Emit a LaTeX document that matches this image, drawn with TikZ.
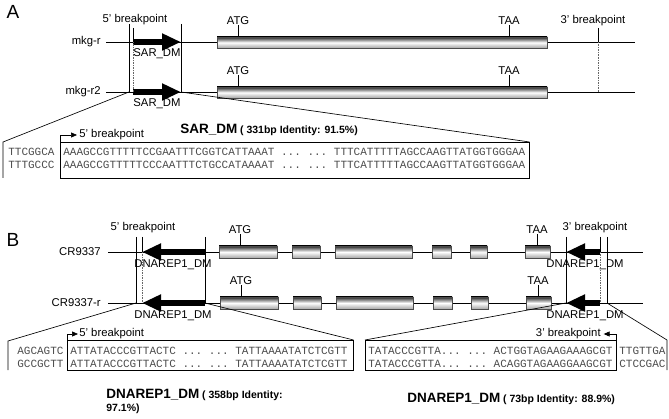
\documentclass[tikz,border=0pt]{standalone}
\usepackage{fontspec}
\setmainfont{Liberation Sans}
\setmonofont{Liberation Mono}
\usetikzlibrary{arrows.meta}

\tikzset{
  panel/.style={font=\fontsize{19}{20}\selectfont, inner sep=0pt},
  lbl/.style={font=\fontsize{11.3}{12}\selectfont, inner sep=0pt},
  seq/.style={font=\ttfamily\fontsize{11}{12}\selectfont, text=black!70, inner sep=0pt},
  exon/.style={draw=black!70, top color=black!85, bottom color=gray!70, middle color=white},
  repeatarrow/.style={line width=6.5pt, -{Triangle[length=19pt,width=16pt]}},
  bpline/.style={densely dotted, black!60},
  pointer/.style={-{Triangle[length=6pt,width=5pt]}},
  zoombox/.style={draw, inner sep=0pt, anchor=north west},
}
\newcommand{\bigname}[1]{{\fontsize{13.5}{14}\selectfont #1}}
\newcommand{\smallinfo}[1]{{\fontsize{10.5}{12}\selectfont #1}}

\begin{document}
\begin{tikzpicture}[x=1pt,y=-1pt,line width=0.65pt]
\useasboundingbox (0,0) rectangle (669,419);

% ---- panel A ----
\node[panel] (labA) at (13,12) {A};
\foreach \y/\name/\txt in {42/mkgr/mkg-r, 92/mkgrtwo/mkg-r2} {
    \node[lbl, anchor=east] (\name) at (101,\y) {\txt};
    \draw (106,\y) -- (635,\y);
    \draw[exon] (217,\y-5) rectangle (547,\y+6);
    \draw[repeatarrow] (133,\y) -- (181,\y);
    \node[lbl] (sar\y) at (157,\y+12) {SAR\_DM};
    \node[lbl] (atg\y) at (238,\y-21) {ATG};
    \draw (atg\y.south) -- (238,\y-5);
    \node[lbl] (taa\y) at (509,\y-21) {TAA};
    \draw (taa\y.south) -- (509,\y-5);
}
\node[lbl] (bpfiveA) at (135,20) {5' breakpoint};
\node[lbl] (bpthreeA) at (593,21) {3' breakpoint};
\draw (129,24) -- (129,92);
\draw (133,28) -- (133,42);
\draw[bpline] (133,42) -- (133,92);
\draw (181,24) -- (181,92);
\draw (598,28) -- (598,42);
\draw[bpline] (598,42) -- (598,92);

% zoom of the SAR_DM region
\coordinate (zAl) at (129,92);
\coordinate (zAr) at (181,92);
\node[zoombox, minimum width=469pt, minimum height=36pt] (boxA) at (60,142) {};
\draw (zAl) -- (3,142) -- (3,178);
\draw (zAr) -- (boxA.north east);
\draw[pointer] (boxA.north west) -- ++(0,-7) -- ++(17,0);
\node[lbl, anchor=west] (ptA) at (79,135) {5' breakpoint};
\node[anchor=west, inner sep=0pt, font=\bfseries] (titleA) at (180,130)
    {\bigname{SAR\_DM} \smallinfo{( 331bp Identity: 91.5\%)}};
\node[seq, anchor=west] (flA1) at (8,152) {TTCGGCA};
\node[seq, anchor=west] (flA2) at (8,165) {TTTGCCC};
\node[seq, anchor=west] (sqA1) at (63,152) {AAAGCCGTTTTTCCGAATTTCGGTCATTAAAT ... ... TTTCATTTTTAGCCAAGTTATGGTGGGAA};
\node[seq, anchor=west] (sqA2) at (63,165) {AAAGCCGTTTTTCCCAATTTCTGCCATAAAAT ... ... TTTCATTTTTAGCCAAGTTATGGTGGGAA};

% ---- panel B ----
\node[panel] (labB) at (13,240) {B};
\foreach \y/\name/\txt/\d in {252/crA/CR9337/0, 303/crB/CR9337-r/1} {
    \node[lbl, anchor=east] (\name) at (101,\y) {\txt};
    \draw (108,\y) -- (643,\y);
    \foreach \a/\b in {219/277, 292/320, 335/412, 432/451, 470/487, 525/550}
        \draw[exon] (\a+\d,\y-6) rectangle (\b+\d,\y+6);
    \draw[repeatarrow] (205,\y) -- (142,\y);
    \draw[repeatarrow] (600,\y) -- (566,\y);
    \node[lbl] (repl\y) at (173,\y+13) {DNAREP1\_DM};
    \node[lbl] (repr\y) at (585,\y+13) {DNAREP1\_DM};
    \node[lbl] (atgB\y) at (240+\d,\y-22) {ATG};
    \draw (atgB\y.south) -- (240+\d,\y-6);
    \node[lbl] (taaB\y) at (537+\d,\y-22) {TAA};
    \draw (taaB\y.south) -- (537+\d,\y-6);
}
\node[lbl] (bpfiveB) at (143,228) {5' breakpoint};
\node[lbl] (bpthreeB) at (595,228) {3' breakpoint};
\draw (136,237) -- (136,303);
\draw (142,237) -- (142,252);
\draw[bpline] (142,252) -- (142,303);
\draw (205,237) -- (205,303);
\draw (566,237) -- (566,303);
\draw (600,237) -- (600,252);
\draw[bpline] (600,252) -- (600,303);
\draw (607,237) -- (607,303);

% zooms of the two DNAREP1_DM regions
\coordinate (zBl) at (136,303);
\coordinate (zBm) at (205,303);
\coordinate (zBn) at (566,303);
\coordinate (zBr) at (607,303);
\node[zoombox, minimum width=286pt, minimum height=30pt] (boxBl) at (67,340) {};
\node[zoombox, minimum width=251pt, minimum height=30pt] (boxBr) at (365,340) {};
\draw (zBl) -- (8,341) -- (8,370);
\draw (zBm) -- (boxBl.north east);
\draw (zBn) -- (boxBr.north west);
\draw (zBr) -- (667,340) -- (667,370);
\draw[pointer] (boxBl.north west) -- ++(0,-6) -- ++(11,0);
\node[lbl, anchor=west] (ptBl) at (79,334) {5' breakpoint};
\draw[pointer] (boxBr.north east) -- ++(0,-6) -- ++(-13,0);
\node[lbl, anchor=east] (ptBr) at (601,334) {3' breakpoint};

\node[seq, anchor=west] (flB1) at (17,351) {AGCAGTC};
\node[seq, anchor=west] (flB2) at (17,364) {GCCGCTT};
\node[seq, anchor=west] (sqB1) at (70,351) {ATTATACCCGTTACTC ... ... TATTAAAATATCTCGTT};
\node[seq, anchor=west] (sqB2) at (70,364) {ATTATACCCGTTACTC ... ... TATTAAAATATCTCGTT};
\node[seq, anchor=west] (sqB3) at (368,351) {TATACCCGTTA... ... ACTGGTAGAAGAAAGCGT};
\node[seq, anchor=west] (sqB4) at (368,364) {TATACCCGTTA... ... ACAGGTAGAAGGAAGCGT};
\node[seq, anchor=west] (frB1) at (619,351) {TTGTTGA};
\node[seq, anchor=west] (frB2) at (619,364) {CTCCGAC};

\node[anchor=west, inner sep=0pt, font=\bfseries] (titleBl) at (106,395)
    {\bigname{DNAREP1\_DM} \smallinfo{( 358bp Identity:}};
\node[anchor=west, inner sep=0pt, font=\bfseries] (titleBl2) at (106,409) {\smallinfo{97.1\%)}};
\node[anchor=west, inner sep=0pt, font=\bfseries] (titleBr) at (407,399)
    {\bigname{DNAREP1\_DM} \smallinfo{( 73bp Identity: 88.9\%)}};
\end{tikzpicture}
\end{document}
